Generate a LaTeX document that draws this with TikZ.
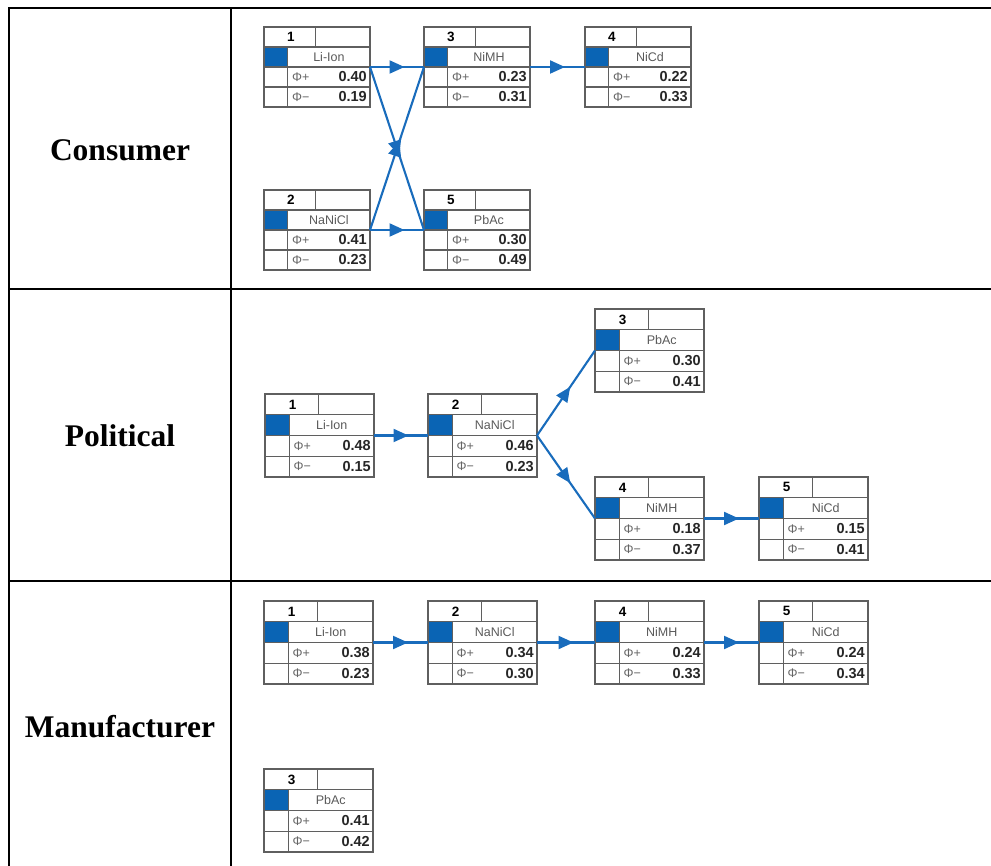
\documentclass[tikz,border=0pt]{standalone}
\usepackage{fontspec}
\setmainfont{Liberation Serif}
\newfontfamily\boxfont{Liberation Sans}
\usetikzlibrary{arrows.meta,decorations.markings}

\definecolor{batblue}{RGB}{10,100,180}
\definecolor{arrowblue}{RGB}{25,108,188}
\definecolor{gridgray}{RGB}{95,95,95}

\tikzset{
  rule/.style={line width=2pt,black},
  grid/.style={line width=1.1pt,gridgray},
  rowlabel/.style={font=\fontsize{31.5}{36}\selectfont\bfseries,inner sep=0},
  numtxt/.style={font=\boxfont\fontsize{13.5}{14}\selectfont\bfseries,inner sep=0},
  nametxt/.style={font=\boxfont\fontsize{12.5}{14}\selectfont,text=black!65,inner sep=0},
  phitxt/.style={font=\boxfont\fontsize{12.5}{14}\selectfont,text=black!60,inner sep=0},
  valtxt/.style={font=\boxfont\fontsize{14.5}{15}\selectfont\bfseries,text=black!85,inner sep=0},
  frame/.style={inner sep=0,outer sep=0},
  flow/.style={draw=arrowblue,line width=2.1pt,postaction={decorate},
    decoration={markings,mark=at position 0.5 with
      {\arrow[arrowblue,xshift=7.5pt]{Triangle[length=15pt,width=13pt]}}}}
}

% one battery box: name, x, y (top left), number, chemistry, phi+, phi-
\newcommand\battbox[7]{%
  \pgfmathsetmacro\bxa{#2}\pgfmathsetmacro\bya{#3}%
  \pgfmathsetmacro\bxb{#2+\bw}\pgfmathsetmacro\byb{#3+\bh}%
  \pgfmathsetmacro\bxs{#2+0.225*\bw}\pgfmathsetmacro\bxh{#2+0.49*\bw}%
  \pgfmathsetmacro\bra{#3+\bh/4}\pgfmathsetmacro\brb{#3+\bh/2}%
  \pgfmathsetmacro\brc{#3+3*\bh/4}%
  \fill[batblue] (\bxa,\bra) rectangle (\bxs,\brb);
  \draw[grid] (\bxa,\bya) rectangle (\bxb,\byb);
  \draw[grid] (\bxa,\bra) -- (\bxb,\bra) (\bxa,\brb) -- (\bxb,\brb)
              (\bxa,\brc) -- (\bxb,\brc);
  \draw[grid] (\bxh,\bya) -- (\bxh,\bra) (\bxs,\bra) -- (\bxs,\byb);
  \node[numtxt] (#1-num) at ({(\bxa+\bxh)/2+1},{(\bya+\bra)/2}) {#4};
  \node[nametxt] (#1-name) at ({(\bxs+\bxb)/2},{(\bra+\brb)/2}) {#5};
  \node[phitxt,anchor=west] (#1-pl) at ({\bxs+4},{(\brb+\brc)/2}) {Φ+};
  \node[valtxt,anchor=east] (#1-pv) at ({\bxb-3},{(\brb+\brc)/2}) {#6};
  \node[phitxt,anchor=west] (#1-mi) at ({\bxs+4},{(\brc+\byb)/2}) {Φ−};
  \node[valtxt,anchor=east] (#1-mv) at ({\bxb-3},{(\brc+\byb)/2}) {#7};
  \node[frame,minimum width=\bw pt,minimum height=\bh pt,anchor=north west]
    (#1) at (\bxa,\bya) {};
}

\begin{document}
\begin{tikzpicture}[x=1pt,y=-1pt]
\useasboundingbox (0,0) rectangle (991,866);

% table rules
\draw[rule] (8,8) -- (991,8);
\draw[rule] (8,289) -- (991,289);
\draw[rule] (8,581) -- (991,581);
\draw[rule] (9,8) -- (9,866);
\draw[rule] (230.5,8) -- (230.5,866);

% row labels
\node[rowlabel] (lcons) at (120,150) {Consumer};
\node[rowlabel] (lpol) at (120,436) {Political};
\node[rowlabel] (lman) at (120,727) {Manufacturer};

% consumer
\def\bw{106}\def\bh{80}
\battbox{c1}{264}{27}{1}{Li-Ion}{0.40}{0.19}
\battbox{c3}{424}{27}{3}{NiMH}{0.23}{0.31}
\battbox{c4}{585}{27}{4}{NiCd}{0.22}{0.33}
\battbox{c2}{264}{190}{2}{NaNiCl}{0.41}{0.23}
\battbox{c5}{424}{190}{5}{PbAc}{0.30}{0.49}
\draw[flow] (c1.east) -- (c3.west);
\draw[flow] (c3.east) -- (c4.west);
\draw[flow] (c1.east) -- (c5.west);
\draw[flow] (c2.east) -- (c3.west);
\draw[flow] (c2.east) -- (c5.west);

% political
\def\bw{109}\def\bh{83}
\battbox{p1}{265}{394}{1}{Li-Ion}{0.48}{0.15}
\battbox{p2}{428}{394}{2}{NaNiCl}{0.46}{0.23}
\battbox{p3}{595}{309}{3}{PbAc}{0.30}{0.41}
\battbox{p4}{595}{477}{4}{NiMH}{0.18}{0.37}
\battbox{p5}{759}{477}{5}{NiCd}{0.15}{0.41}
\draw[flow] (p1.east) -- (p2.west);
\draw[flow] (p2.east) -- (p3.west);
\draw[flow] (p2.east) -- (p4.west);
\draw[flow] (p4.east) -- (p5.west);

% manufacturer
\battbox{m1}{264}{601}{1}{Li-Ion}{0.38}{0.23}
\battbox{m2}{428}{601}{2}{NaNiCl}{0.34}{0.30}
\battbox{m4}{595}{601}{4}{NiMH}{0.24}{0.33}
\battbox{m5}{759}{601}{5}{NiCd}{0.24}{0.34}
\battbox{m3}{264}{769}{3}{PbAc}{0.41}{0.42}
\draw[flow] (m1.east) -- (m2.west);
\draw[flow] (m2.east) -- (m4.west);
\draw[flow] (m4.east) -- (m5.west);
\end{tikzpicture}
\end{document}
